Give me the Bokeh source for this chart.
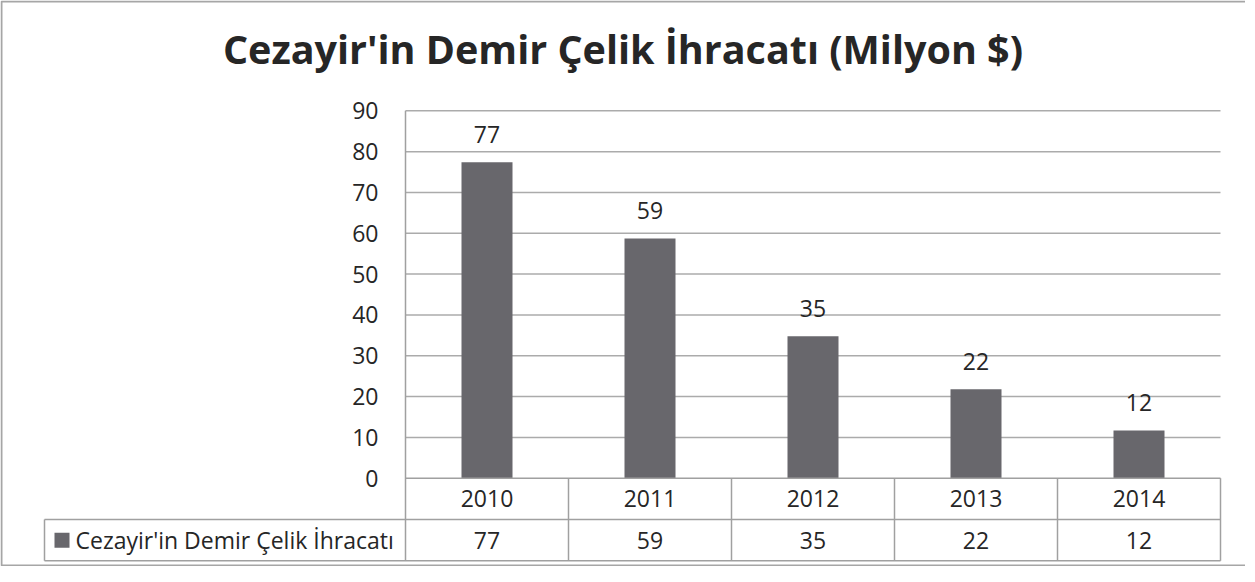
from bokeh.plotting import figure
from bokeh.models import Range1d
from bokeh.core.properties import value
from bokeh.embed import file_html
from bokeh.resources import INLINE

# ---- data ----
chart_title = "Cezayir'in Demir Çelik İhracatı (Milyon $)"
series_name = "Cezayir'in Demir Çelik İhracatı"
years = ["2010", "2011", "2012", "2013", "2014"]
exports = [77.4, 58.7, 34.8, 21.8, 11.7]
value_labels = ["77", "59", "35", "22", "12"]
y_ticks = [0, 10, 20, 30, 40, 50, 60, 70, 80, 90]

# ---- layout constants (pixels) ----
W, H = 1245, 566
PX_X0 = 413 - 8          # canvas x of the plot area's left edge
CAT_W = 163.0            # pixels per category
PX_Y0 = 485.7 - 8        # canvas y of value 0
PPU = 4.082              # pixels per value unit

def dx(px):
    return px / CAT_W

def dy(px):
    return px / PPU

x_start = -0.5 - dx(PX_X0)
x_end = x_start + dx(W)
y_end = dy(PX_Y0)
y_start = y_end - dy(H)

n = len(years)
xs = list(range(n))
row_h = dy(41.3)
legend_left = -0.5 - dx(413 - 52)

FONT = value("Open Sans")
FS = "23px"
TXT = "#262626"
GRID = "#ababab"
TABLE = "#a0a0a0"
BAR = "#68676c"

p = figure(width=W, height=H, output_backend="svg", toolbar_location=None,
           x_range=Range1d(x_start, x_end), y_range=Range1d(y_start, y_end),
           x_axis_type=None, y_axis_type=None, min_border=0)
p.outline_line_color = None
p.background_fill_color = "white"
p.border_fill_color = "white"

# outer chart border (top, left, bottom; right side is beyond the view)
p.quad(left=[x_start + dx(1)], right=[x_end + 1], top=[y_end - dy(1)],
       bottom=[y_start + dy(1)], fill_color=None, line_color="#a6a6a6", line_width=2)

# horizontal gridlines
grid_vals = y_ticks[1:]
p.segment(x0=[-0.5] * len(grid_vals), x1=[n - 0.5] * len(grid_vals),
          y0=grid_vals, y1=grid_vals, line_color=GRID, line_width=1.5)

# bars
p.vbar(x=xs, top=exports, bottom=0, width=dx(51), fill_color=BAR, line_color=None)

# data labels above bars
p.text(x=xs, y=exports, text=value_labels, text_align="center",
       text_baseline="middle", y_offset=-28, text_font=FONT,
       text_font_size=FS, text_color=TXT)

# y tick labels
p.text(x=[-0.5 - dx(27)] * len(y_ticks), y=y_ticks, text=[str(t) for t in y_ticks],
       text_align="right", text_baseline="middle", text_font=FONT,
       text_font_size=FS, text_color=TXT)

# data table lines
h_x0 = [-0.5, legend_left, legend_left]
h_x1 = [n - 0.5] * 3
h_y = [0, -row_h, -2 * row_h]
p.segment(x0=h_x0, x1=h_x1, y0=h_y, y1=h_y, line_color=TABLE, line_width=1.5)

v_x = [-0.5] + [i + 0.5 for i in xs] + [legend_left]
v_top = [y_ticks[-1]] + [0] * n + [-row_h]
v_bot = [-2 * row_h] * (n + 2)
p.segment(x0=v_x, x1=v_x, y0=v_top, y1=v_bot, line_color=TABLE, line_width=1.5)

# table contents
p.text(x=xs, y=[-row_h / 2] * n, text=years, text_align="center",
       text_baseline="middle", text_font=FONT, text_font_size=FS, text_color=TXT)
p.text(x=xs, y=[-1.5 * row_h] * n, text=value_labels, text_align="center",
       text_baseline="middle", text_font=FONT, text_font_size=FS, text_color=TXT)

# legend key in the table
p.scatter(x=[legend_left + dx(17.5)], y=[-1.5 * row_h], marker="square", size=15,
          fill_color=BAR, line_color=None)
p.text(x=[legend_left + dx(31)], y=[-1.5 * row_h], text=[series_name], text_align="left",
       text_baseline="middle", text_font=FONT, text_font_size=FS, text_color=TXT)

# chart title
p.text(x=[-0.5 + dx(630.5 - 413)], y=[dy(PX_Y0 - (56.5 - 8))], text=[chart_title],
       text_align="center", text_baseline="middle", text_font=FONT,
       text_font_style="bold", text_font_size="39.5px", text_color=TXT)

open("out.html", "w").write(file_html(p, INLINE))
